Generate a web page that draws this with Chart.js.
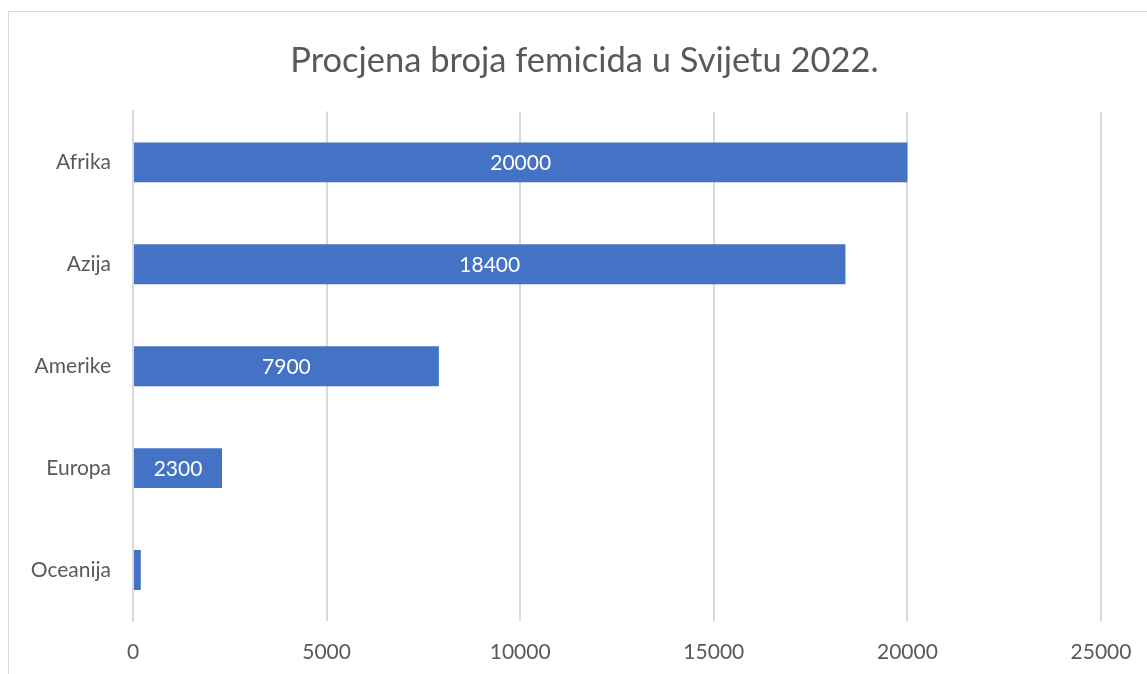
<!DOCTYPE html>
<html>
<head>
<meta charset="utf-8">
<script src="https://cdn.jsdelivr.net/npm/chart.js@4.4.1/dist/chart.umd.min.js"></script>
<style>
  html, body { margin: 0; padding: 0; background: #fff; overflow: hidden; }
  #wrap { position: absolute; left: 0; top: 0; width: 1147px; height: 674px; }
  #frame { position: absolute; left: 8px; top: 11px; width: 1160px; height: 700px;
           border: 1px solid #d9d9d9; box-sizing: border-box; }
</style>
</head>
<body>
<div id="wrap">
  <div id="frame"></div>
  <canvas id="chart" width="1147" height="674"></canvas>
</div>
<script>
// chart data
const regions = ['Afrika', 'Azija', 'Amerike', 'Europa', 'Oceanija'];
const femicides = [20000, 18400, 7900, 2300, 200];
const xTicks = [0, 5000, 10000, 15000, 20000, 25000];

const FONT = 'Lato, "Open Sans", sans-serif';

// white value labels in the middle of each bar (skipped if it does not fit)
const barLabels = {
  id: 'barLabels',
  afterDatasetsDraw(chart) {
    const ctx = chart.ctx;
    const meta = chart.getDatasetMeta(0);
    ctx.save();
    ctx.font = '21px ' + FONT;
    ctx.fillStyle = '#ffffff';
    ctx.textAlign = 'center';
    ctx.textBaseline = 'middle';
    meta.data.forEach(function (bar, i) {
      const txt = String(femicides[i]);
      const w = Math.abs(bar.x - bar.base);
      if (w < ctx.measureText(txt).width + 8) return;
      ctx.fillText(txt, (bar.x + bar.base) / 2, bar.y + 1);
    });
    ctx.restore();
  }
};

new Chart(document.getElementById('chart').getContext('2d'), {
  type: 'bar',
  data: {
    labels: regions,
    datasets: [{
      label: 'Femicidi',
      data: femicides,
      backgroundColor: '#4472C4',
      borderWidth: 0,
      categoryPercentage: 1,
      barPercentage: 0.392
    }]
  },
  options: {
    indexAxis: 'y',
    responsive: false,
    animation: false,
    layout: { padding: { left: 22, right: 0, top: 0, bottom: 0 } },
    plugins: {
      legend: { display: false },
      tooltip: { enabled: false },
      title: {
        display: true,
        text: 'Procjena broja femicida u Svijetu 2022.',
        color: '#595959',
        font: { family: FONT, size: 34.5, weight: 'normal' },
        padding: { top: 40, bottom: 30 }
      }
    },
    scales: {
      x: {
        min: 0,
        max: 25000,
        afterBuildTicks(scale) {
          scale.ticks = xTicks.map(v => ({ value: v }));
        },
        afterFit(scale) {
          scale.height = 53;
          scale.paddingLeft = 0;
          scale.paddingRight = 46;
        },
        grid: { color: '#d9d9d9', lineWidth: 2, drawTicks: false },
        border: { display: false },
        ticks: {
          color: '#595959',
          font: { family: FONT, size: 21 },
          padding: 19,
          callback: v => String(v)
        }
      },
      y: {
        afterFit(scale) { scale.width = 111; },
        grid: { display: false, drawTicks: false },
        border: { display: true, color: '#d9d9d9', width: 2 },
        ticks: {
          color: '#595959',
          font: { family: FONT, size: 21 },
          padding: 22
        }
      }
    }
  },
  plugins: [barLabels]
});
</script>
</body>
</html>
